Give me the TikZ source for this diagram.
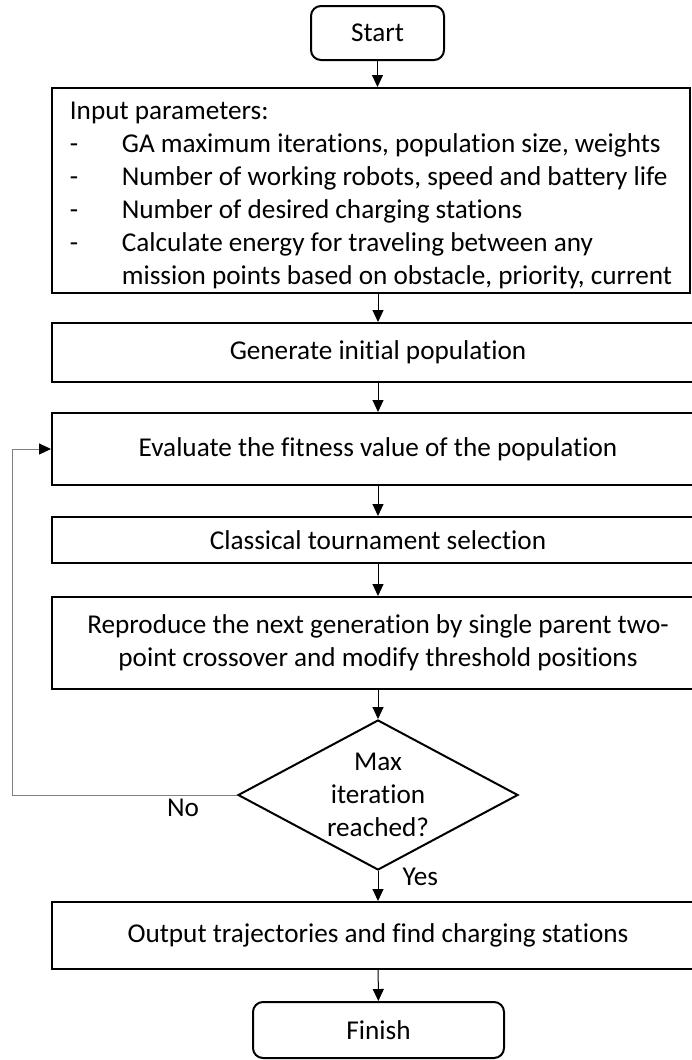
\documentclass[tikz,border=0pt]{standalone}
\usepackage{fontspec}
\setmainfont{Carlito}[Ligatures=NoCommon]
\usetikzlibrary{arrows.meta,positioning,shapes.geometric}
\tikzset{
  term/.style={draw=black,line width=1pt,rounded corners=5pt,inner sep=0pt},
  proc/.style={draw=black,line width=1pt,minimum width=326pt,align=center,inner sep=0pt},
  inp/.style={draw=black,line width=1pt,minimum width=319pt,minimum height=102.5pt,
              align=left,inner sep=0pt},
  dec/.style={draw=black,line width=1pt,diamond,aspect=1.87,inner sep=0pt,
              minimum width=140pt,minimum height=75pt,align=center},
  ar/.style ={-{Triangle[length=6pt,width=5.5pt]},line width=.5pt},
  fb/.style ={-{Triangle[length=6pt,width=5.5pt,color=black]},line width=.5pt,draw=black!50},
  lbl/.style={inner sep=0pt},
}

\begin{document}
\begin{tikzpicture}[x=.5pt,y=-.5pt,font=\fontsize{13.6pt}{16.5pt}\selectfont]
  \useasboundingbox (0,0) rectangle (691,1060);
  \node[term,minimum width=66.5pt,minimum height=27pt] (start) at (377.5,33) {Start};
  \node[inp] (input) at (371,190.5) {\rule{0pt}{13.3pt}Input parameters:\\
    \makebox[26pt][l]{-}GA maximum iterations, population size, weights\\
    \makebox[26pt][l]{-}Number of working robots, speed and battery life\\
    \makebox[26pt][l]{-}Number of desired charging stations\\
    \makebox[26pt][l]{-}Calculate energy for traveling between any\\
    \hspace*{26pt}mission points based on obstacle, priority, current};
  \node[proc,minimum height=29.5pt] (init) at (378,352.5) {Generate initial population};
  \node[proc,minimum height=36pt] (fitness) at (378,449) {Evaluate the fitness value of the population};
  \node[proc,minimum height=23pt] (select) at (378,540) {Classical tournament selection};
  \node[proc,minimum height=46pt] (repro) at (378,643)
    {Reproduce the next generation by single parent two-\\point crossover and modify threshold positions};
  \node[dec] (maxit) at (378,795) {Max\\iteration\\reached?};
  \node[proc,minimum height=33.5pt] (output) at (378,935.5) {Output trajectories and find charging stations};
  \node[term,minimum width=125.5pt,minimum height=28pt] (finish) at (378.5,1030) {Finish};
  \coordinate (back) at (12,795);

  \draw[ar] (start.south) -- (start.south |- input.north);
  \draw[ar] (input.south -| init) -- (init);
  \draw[ar] (init) -- (fitness);
  \draw[ar] (fitness) -- (select);
  \draw[ar] (select) -- (repro);
  \draw[ar] (repro) -- (maxit);
  \draw[ar] (maxit.south) -- node[lbl,right=12pt,pos=.19]{Yes} (output);
  \draw[ar] (output) -- (finish);
  % loop back when not done
  \draw[fb] (maxit.west) -- node[lbl,below=2pt,pos=.24]{No} (back) |- (fitness.west);
\end{tikzpicture}
\end{document}
